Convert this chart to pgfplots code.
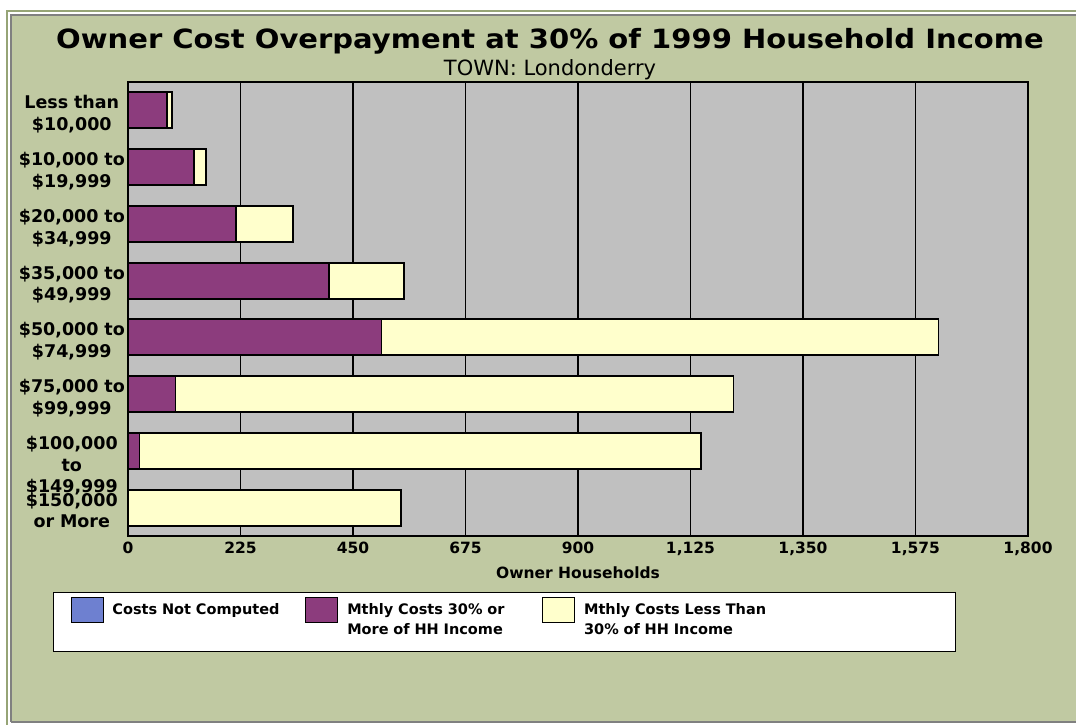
\documentclass[border=0pt]{standalone}
\usepackage{fontspec}
\setmainfont{DejaVu Sans}
\newfontfamily\titlefont[FakeStretch=1.095]{DejaVu Sans Bold}
\usepackage{pgfplots}
\pgfplotsset{compat=1.18}

\definecolor{frameolive}{RGB}{192,201,162}
\definecolor{frameline}{RGB}{150,164,118}
\definecolor{plotgray}{RGB}{192,192,192}
\definecolor{ccplum}{RGB}{140,60,125}
\definecolor{cclight}{RGB}{255,255,204}
\definecolor{ccblue}{RGB}{110,128,208}

\begin{document}
\begin{tikzpicture}[x=1pt,y=1pt]
\useasboundingbox (0,0) rectangle (1076,724);
% frame
\begin{scope}
\clip (0,0) rectangle (1076,724);
\fill[frameolive] (11,2) rectangle (1090,709);
\draw[frameline, line width=2pt] (7,-10) -- (7,713) -- (1090,713);
\draw[gray, line width=1.2pt] (11,2) -- (11,709) -- (1090,709);
\draw[gray, line width=1.2pt] (11,2) -- (1090,2);
\end{scope}

% titles
\node[anchor=base] at (550,675) {\titlefont\fontsize{26.5}{30}\selectfont Owner Cost Overpayment at 30\% of 1999 Household Income};
\node[anchor=base] at (550,648) {\fontsize{21}{24}\selectfont TOWN: Londonderry};

% legend box
\draw[black, line width=0.8pt, fill=white] (53,73) rectangle (955,132);

\begin{axis}[
  at={(128pt,188pt)}, anchor=south west,
  scale only axis, width=900pt, height=454pt,
  xbar stacked, bar width=36pt,
  xmin=0, xmax=1800, xtick={0,225,...,1800},
  ymin=-0.5, ymax=7.5, y dir=reverse,
  ytick={0,...,7},
  yticklabels={{Less than\\\$10,000},{\$10,000 to\\\$19,999},{\$20,000 to\\\$34,999},{\$35,000 to\\\$49,999},{\$50,000 to\\\$74,999},{\$75,000 to\\\$99,999},{\$100,000\\to\\\$149,999},{\$150,000\\or More}},
  yticklabel style={font=\fontsize{17.5}{21.7}\selectfont\bfseries, text width=112pt, align=center, inner sep=0pt, anchor=north east, yshift=15pt},
  xticklabel style={font=\fontsize{15.5}{18}\selectfont\bfseries, inner sep=0pt, yshift=-6pt},
  /pgf/number format/.cd, 1000 sep={,}, assume math mode=true, /pgfplots/.cd,
  xlabel={Owner Households},
  xlabel style={font=\fontsize{15.5}{18}\selectfont\bfseries, at={(axis description cs:0.5,-0.0925)}, anchor=base},
  xmajorgrids, major grid style={black, line width=1.6pt},
  axis background/.style={fill=plotgray},
  axis line style={black, line width=2.2pt},
  tick style={draw=none},
  legend image code/.code={\draw[#1, line width=0.8pt] (0pt,-8pt) rectangle (32pt,17pt);},
  legend columns=3,
  legend cell align=left,
  legend style={at={(-0.0639,-0.1344)}, anchor=north west, draw=none, fill=none, inner sep=0pt,
    font=\fontsize{14.5}{19.5}\selectfont\bfseries,
    cells={anchor=base west},
    nodes={inner xsep=0pt, inner ysep=0pt, align=left},
    /tikz/every odd column/.append style={column sep=9pt},
    /tikz/every even column/.append style={column sep=0pt}},
]
\addplot[fill=ccblue, draw=black, line width=1.8pt] coordinates {(0,0) (0,1) (0,2) (0,3) (0,4) (0,5) (0,6) (0,7)};
\addlegendentry[text width=193pt]{Costs Not Computed}
\addplot[fill=ccplum, draw=black, line width=1.8pt] coordinates {(78,0) (132,1) (216,2) (402,3) (507,4) (95,5) (23,6) (0,7)};
\addlegendentry[text width=195pt]{Mthly Costs 30\% or\\More of HH Income}
\addplot[fill=cclight, draw=black, line width=1.8pt] coordinates {(10,0) (24,1) (114,2) (150,3) (1114,4) (1116,5) (1123,6) (546,7)};
\addlegendentry[text width=220pt]{Mthly Costs Less Than\\30\% of HH Income}
\end{axis}
\end{tikzpicture}
\end{document}
